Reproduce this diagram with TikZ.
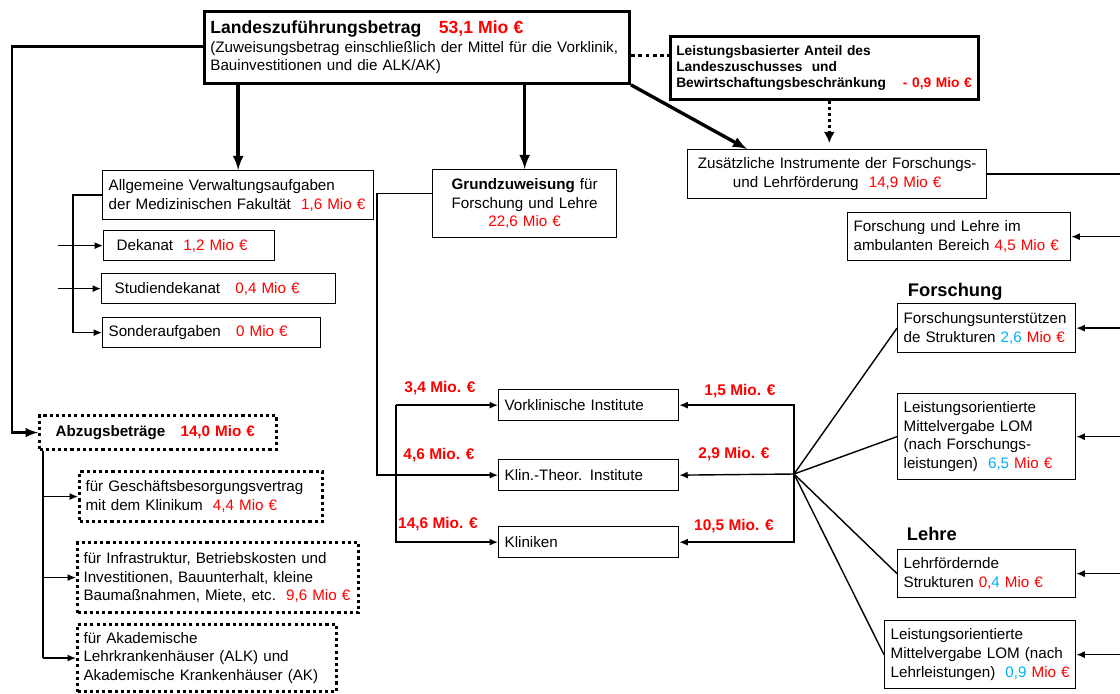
\documentclass[tikz,border=0pt]{standalone}
\usepackage{fontspec}
\setmainfont{Liberation Sans}
\usetikzlibrary{arrows.meta}
\definecolor{mred}{RGB}{255,0,0}
\definecolor{mblue}{RGB}{0,176,240}

\tikzset{
  pbox/.style 2 args={draw, line width=0.9pt, anchor=north west, inner xsep=0.15cm, inner ysep=0pt,
    align=left, text width=#1cm-0.3cm, minimum height=#2cm},
  dotbox/.style={line width=2.2pt, dash pattern=on 2.2pt off 2.2pt},
  link/.style={line width=1pt},
  heavy/.style={line width=2.4pt},
  mio/.style={text=mred, font=\fontsize{11}{13}\selectfont\bfseries},
  head/.style={anchor=west, font=\fontsize{13}{15}\selectfont\bfseries},
}

\begin{document}
\begin{tikzpicture}[x=0.025cm, y=-0.025cm, every node/.style={font=\fontsize{10.8}{13.3}\selectfont}]
	\useasboundingbox (0,0) rectangle (1120,693);
	% Kopf
	\node [pbox={10.625}{1.8}, line width=2pt] (land) at (203,10)
		{{\fontsize{12.5}{15}\selectfont\bfseries Landeszuführungsbetrag\quad\textcolor{mred}{53,1 Mio €}}\\
		 (Zuweisungsbetrag einschließlich der Mittel für die Vorklinik,\\ Bauinvestitionen und die ALK/AK)};
	\node [pbox={7.7}{1.575}, line width=1.8pt, font=\fontsize{9.8}{11.5}\selectfont\bfseries] (leist) at (669,35)
		{Leistungsbasierter Anteil des\\ Landeszuschusses\ \ und\\
		 Bewirtschaftungsbeschränkung\hspace{12pt}\textcolor{mred}{- 0,9 Mio €}};
	\node [pbox={7.475}{1.225}, align=center] (zus) at (687,149)
		{Zusätzliche Instrumente der Forschungs-\\ und Lehrförderung\ \ \textcolor{mred}{14,9 Mio €}};
	\node [pbox={5.575}{1.2}] (amb) at (847,212)
		{Forschung und Lehre im\\ ambulanten Bereich \textcolor{mred}{4,5 Mio €}};
	% Forschung und Lehre
	\node [head] (hforsch) at (903,292) {Forschung};
	\node [pbox={4.45}{1.225}] (fsu) at (897,303)
		{Forschungsunterstützen\\ de Strukturen \textcolor{mblue}{2,6} \textcolor{mred}{Mio €}};
	\node [pbox={4.45}{2.15}] (lomf) at (897,393)
		{Leistungsorientierte\\ Mittelvergabe LOM\\ (nach Forschungs-\\ leistungen)\ \ \textcolor{mblue}{6,5} \textcolor{mred}{Mio €}};
	\node [head] (hlehre) at (902,534) {Lehre};
	\node [pbox={4.45}{1.2}] (lfs) at (897,549)
		{Lehrfördernde\\ Strukturen \textcolor{mred}{0,}\textcolor{mblue}{4} \textcolor{mred}{Mio €}};
	\node [pbox={4.775}{1.7}] (loml) at (884,620)
		{Leistungsorientierte\\ Mittelvergabe LOM (nach\\ Lehrleistungen)\ \ \textcolor{mblue}{0,9} \textcolor{mred}{Mio €}};
	% Verwaltung
	\node [pbox={6.775}{1.225}] (allg) at (102,170)
		{Allgemeine Verwaltungsaufgaben\\ der Medizinischen Fakultät\ \ \textcolor{mred}{1,6 Mio €}};
	\node [pbox={4.275}{0.75}] (dek) at (103,230) {\hspace{5pt}Dekanat\ \ \textcolor{mred}{1,2 Mio €}};
	\node [pbox={5.85}{0.75}] (stud) at (101,273) {\hspace{5pt}Studiendekanat\quad\textcolor{mred}{0,4 Mio €}};
	\node [pbox={5.45}{0.75}] (sond) at (102,317) {Sonderaufgaben\quad\textcolor{mred}{0 Mio €}};
	% Grundzuweisung
	\node [pbox={4.6}{1.7}, align=center] (grund) at (432,169)
		{\textbf{Grundzuweisung} für\\ Forschung und Lehre\\ \textcolor{mred}{22,6 Mio €}};
	\node [pbox={4.5}{0.775}] (vork) at (498,389) {Vorklinische Institute};
	\node [pbox={4.5}{0.775}] (klin) at (498,459) {Klin.-Theor. Institute};
	\node [pbox={4.5}{0.775}] (klk) at (498,526) {Kliniken};
	% Abzug
	\node [pbox={5.925}{0.85}, dotbox] (abz) at (38,414)
		{\bfseries\ \ Abzugsbeträge\quad\textcolor{mred}{14,0 Mio €}};
	\node [pbox={6.075}{1.25}, dotbox] (gesch) at (78,470)
		{für Geschäftsbesorgungsvertrag\\ mit dem Klinikum\ \ \textcolor{mred}{4,4 Mio €}};
	\node [pbox={7.025}{1.75}, dotbox] (infra) at (76,541)
		{für Infrastruktur, Betriebskosten und\\ Investitionen, Bauunterhalt, kleine\\
		 Baumaßnahmen, Miete, etc.\ \ \textcolor{mred}{9,6 Mio €}};
	\node [pbox={6.475}{1.675}, dotbox] (akad) at (76,623)
		{für Akademische\\ Lehrkrankenhäuser (ALK) und\\ Akademische Krankenhäuser (AK)};
	% Beträge
	\node [mio] (m34) at (440,388) {3,4 Mio. €};
	\node [mio] (m46) at (439,455) {4,6 Mio. €};
	\node [mio] (m146) at (438,524) {14,6 Mio. €};
	\node [mio] (m15) at (740,391) {1,5 Mio. €};
	\node [mio] (m29) at (734,454) {2,9 Mio. €};
	\node [mio] (m105) at (734,526) {10,5 Mio. €};

	\coordinate (redge) at (1120,0);
	\coordinate (fan) at (794,474);
	\coordinate (lbar) at (396,0);
	\coordinate (gbar) at (377,0);
	\coordinate (abar) at (73,0);
	\coordinate (dfree) at (58,0);
	\coordinate (zbar) at (43,0);

	% Verbindungen
	\draw [heavy, arrows={-latex}] (allg.north |- land.south) -- (allg.north);
	\draw [heavy, arrows={-latex}] (grund.north |- land.south) -- (grund.north);
	\draw [heavy, arrows={-latex}] (land.south east) -- ([xshift=1.5cm]zus.north west);
	\draw [line width=2pt, line join=miter, arrows={-latex}] ([yshift=0.025cm]land.west) -| ([xshift=-0.65cm]abz.west) -- (abz.west);
	\draw [line width=2.6pt, dash pattern=on 2.6pt off 2.6pt] ([yshift=-0.2cm]land.east) -- ([yshift=-0.2cm]land.east -| leist.west);
	\draw [dotbox, arrows={-Latex[length=8pt, width=8pt]}, shorten >=0.15cm] ([xshift=0.125cm]leist.south) -- ([xshift=0.125cm]leist.south |- zus.north);
	\draw [link] (zus.east) -- (zus.east -| redge);
	\foreach \n in {amb, fsu, lomf, lfs, loml}
		\draw [link, arrows={-Latex[length=6pt, width=5pt]}] (\n.east -| redge) -- (\n.east);
	\foreach \n in {fsu, lomf, lfs, loml}
		\draw [link] (fan) -- (\n.west);
	\draw [link, arrows={-Latex[length=6pt, width=5pt]}] (fan) |- (vork.east);
	\draw [link, arrows={-Latex[length=6pt, width=5pt]}] (fan) |- (klk.east);
	\draw [link, arrows={-Latex[length=6pt, width=5pt]}] (fan) -- (klin.east);
	\draw [link, arrows={-Latex[length=6pt, width=5pt]}] (lbar |- vork.west) -- (vork.west);
	\draw [link, arrows={-Latex[length=6pt, width=5pt]}] (lbar |- vork.west) |- (klk.west);
	\draw [link, arrows={-Latex[length=6pt, width=5pt]}] ([yshift=0.25cm]grund.west) -| (gbar |- klin.west) -- (klin.west);
	\draw [link, arrows={-Latex[length=6pt, width=5pt]}] (allg.west) -| (abar |- sond.west) -- (sond.west);
	\draw [link, arrows={-Latex[length=6pt, width=5pt]}] (dfree |- dek.west) -- (dek.west);
	\draw [link, arrows={-Latex[length=6pt, width=5pt]}] (dfree |- stud.west) -- (stud.west);
	\draw [link] (zbar |- abz.south) -- (zbar |- akad.west);
	\foreach \n in {gesch, infra, akad}
		\draw [link, arrows={-Latex[length=6pt, width=5pt]}] (zbar |- \n.west) -- (\n.west);
\end{tikzpicture}
\end{document}
